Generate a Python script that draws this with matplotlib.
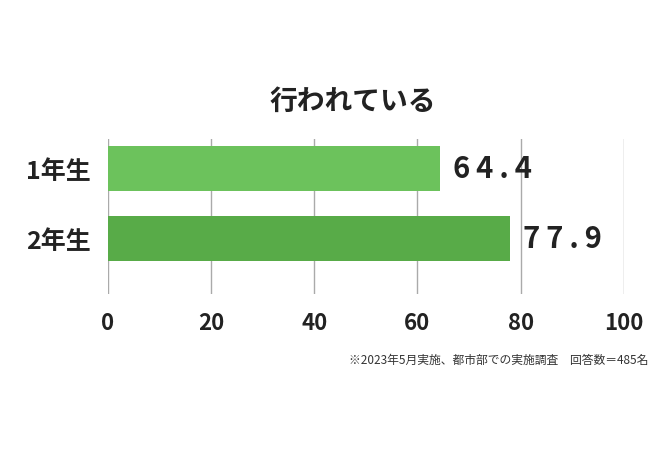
import matplotlib.pyplot as plt

plt.rcParams['font.family'] = ['Noto Sans CJK JP', 'DejaVu Sans']

grades = ['1年生', '2年生']
values = [64.4, 77.9]
colors = ['#6cc25c', '#58ab48']
xticks = [0, 20, 40, 60, 80, 100]

fig = plt.figure(figsize=(6.7, 4.52), dpi=100)
ax = fig.add_axes([0.161, 0.347, 0.770, 0.343])

ax.barh(range(len(grades)), values, height=0.64, color=colors, zorder=3)
for i, v in enumerate(values):
    ax.text(v + 2.5, i, '\u2009'.join(f'{v:.1f}'), va='center', ha='left',
            fontsize=21, fontweight='bold', color='#222222')

ax.set_xlim(0, 100)
ax.set_ylim(1.8, -0.414)
ax.set_xticks(xticks)
ax.set_xticklabels([str(t) for t in xticks], fontsize=16, fontweight='bold', color='#222222')
ax.set_yticks(range(len(grades)))
ax.set_yticklabels(grades, fontsize=18, fontweight='bold', color='#222222')
ax.tick_params(length=0, pad=12)
ax.grid(axis='x', color='#aaaaaa', linewidth=1, zorder=0)
for s in ax.spines.values():
    s.set_visible(False)

fig.text(0.527, 0.775, '行われている', ha='center', va='center',
         fontsize=20, fontweight='bold', color='#222222')
fig.text(0.967, 0.203, '※2023年5月実施、都市部での実施調査　回答数＝485名',
         ha='right', va='center', fontsize=8.5, color='#333333')

fig.savefig('out.png', dpi=100)
